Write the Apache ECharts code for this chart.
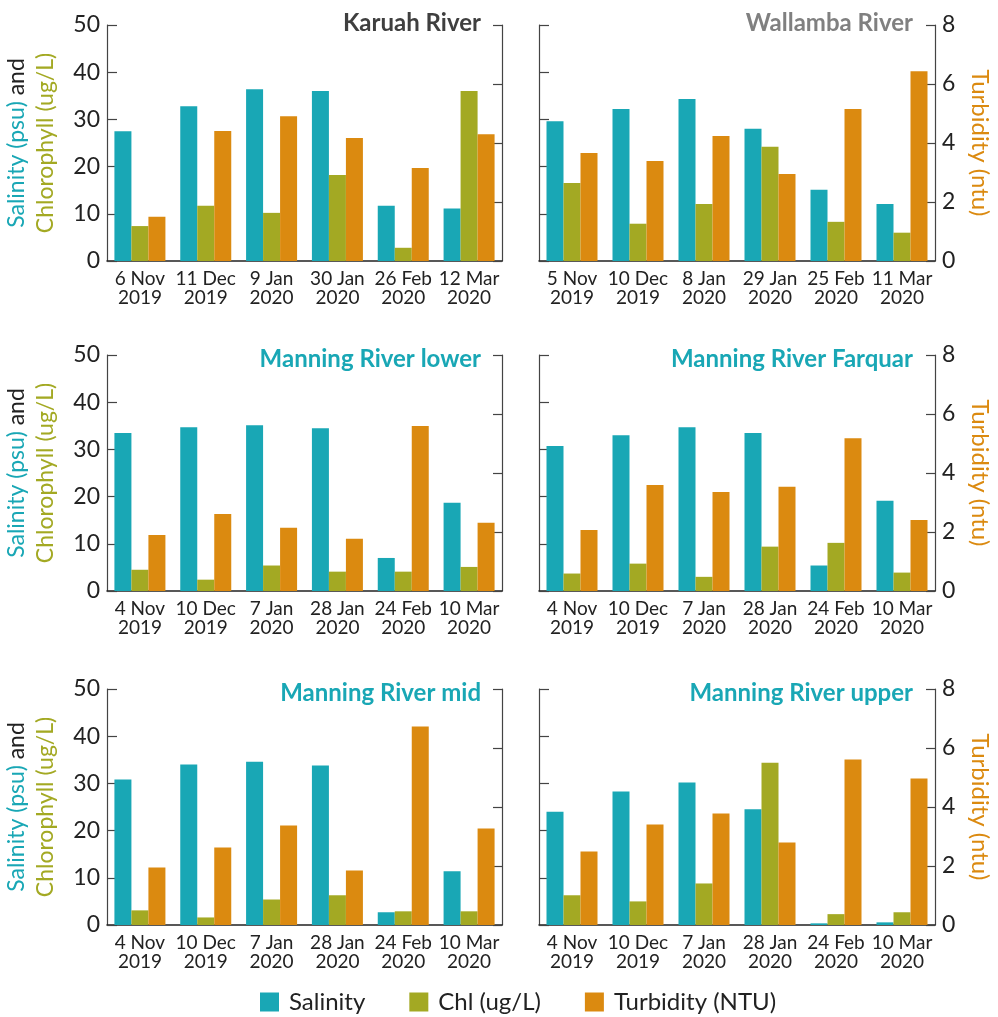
<!DOCTYPE html>
<html>
<head>
<meta charset="utf-8">
<script src="https://cdn.jsdelivr.net/npm/echarts@6/dist/echarts.min.js"></script>
<style>
  html, body { margin: 0; padding: 0; background: #ffffff; }
  #chart { width: 998px; height: 1017px; }
</style>
</head>
<body>
<div id="chart"></div>
<script>
// Sampling dates (category labels) per site
const karuahDates   = ['6 Nov\n2019', '11 Dec\n2019', '9 Jan\n2020', '30 Jan\n2020', '26 Feb\n2020', '12 Mar\n2020'];
const wallambaDates = ['5 Nov\n2019', '10 Dec\n2019', '8 Jan\n2020', '29 Jan\n2020', '25 Feb\n2020', '11 Mar\n2020'];
const manningDates  = ['4 Nov\n2019', '10 Dec\n2019', '7 Jan\n2020', '28 Jan\n2020', '24 Feb\n2020', '10 Mar\n2020'];

// Salinity (psu), chlorophyll (ug/L), turbidity (ntu) per site
const karuahSalinity   = [27.5, 32.8, 36.4, 36.0, 11.7, 11.1];
const karuahChl        = [7.4, 11.7, 10.2, 18.2, 2.8, 36.0];
const karuahTurbidity  = [1.50, 4.41, 4.91, 4.17, 3.15, 4.30];

const wallambaSalinity  = [29.6, 32.2, 34.3, 28.0, 15.1, 12.1];
const wallambaChl       = [16.5, 7.9, 12.1, 24.2, 8.3, 6.0];
const wallambaTurbidity = [3.66, 3.39, 4.24, 2.95, 5.15, 6.43];

const lowerSalinity  = [33.5, 34.7, 35.1, 34.5, 7.0, 18.7];
const lowerChl       = [4.5, 2.4, 5.4, 4.1, 4.1, 5.1];
const lowerTurbidity = [1.90, 2.61, 2.14, 1.77, 5.59, 2.31];

const farquarSalinity  = [30.7, 33.0, 34.7, 33.5, 5.4, 19.1];
const farquarChl       = [3.7, 5.8, 3.0, 9.4, 10.2, 3.9];
const farquarTurbidity = [2.07, 3.59, 3.36, 3.53, 5.18, 2.41];

const midSalinity  = [30.8, 34.0, 34.6, 33.8, 2.7, 11.4];
const midChl       = [3.1, 1.6, 5.4, 6.3, 2.9, 2.9];
const midTurbidity = [1.95, 2.63, 3.37, 1.85, 6.73, 3.27];

const upperSalinity  = [24.0, 28.3, 30.2, 24.5, 0.35, 0.56];
const upperChl       = [6.3, 5.0, 8.8, 34.4, 2.3, 2.7];
const upperTurbidity = [2.49, 3.41, 3.78, 2.80, 5.61, 4.97];

// Axis ticks
const leftTicks  = { min: 0, max: 50, interval: 10 };
const rightTicks = { min: 0, max: 8, interval: 2 };

const COLORS = { sal: '#19a7b5', chl: '#a3a923', turb: '#db8a10' };
const FONT = 'Lato, "Open Sans", sans-serif';
const INK = '#222222';

const panels = [
  { title: 'Karuah River',          titleColor: '#3f3f3f', dates: karuahDates,   sal: karuahSalinity,   chl: karuahChl,   turb: karuahTurbidity,   col: 0, row: 0 },
  { title: 'Wallamba River',        titleColor: '#808080', dates: wallambaDates, sal: wallambaSalinity, chl: wallambaChl, turb: wallambaTurbidity, col: 1, row: 0 },
  { title: 'Manning River lower',   titleColor: COLORS.sal, dates: manningDates, sal: lowerSalinity,    chl: lowerChl,    turb: lowerTurbidity,    col: 0, row: 1 },
  { title: 'Manning River Farquar', titleColor: COLORS.sal, dates: manningDates, sal: farquarSalinity,  chl: farquarChl,  turb: farquarTurbidity,  col: 1, row: 1 },
  { title: 'Manning River mid',     titleColor: COLORS.sal, dates: manningDates, sal: midSalinity,      chl: midChl,      turb: midTurbidity,      col: 0, row: 2 },
  { title: 'Manning River upper',   titleColor: COLORS.sal, dates: manningDates, sal: upperSalinity,    chl: upperChl,    turb: upperTurbidity,    col: 1, row: 2 }
];

const colLeft  = [107, 539];
const colWidth = [395, 396];
const rowTop   = [25, 355, 689];
const plotH    = 236;
const titleRight = [517, 85];
const titleTop   = [11, 347, 681];

const grid = [], xAxis = [], yAxis = [], series = [], title = [];

panels.forEach((p, i) => {
  grid.push({ left: colLeft[p.col], top: rowTop[p.row], width: colWidth[p.col], height: plotH, containLabel: false });

  title.push({
    text: p.title,
    right: titleRight[p.col],
    top: titleTop[p.row],
    padding: 0,
    textStyle: { fontFamily: FONT, fontSize: 24, fontWeight: 'bold', color: p.titleColor }
  });

  xAxis.push({
    type: 'category',
    gridIndex: i,
    data: p.dates,
    axisLine: { lineStyle: { color: INK, width: 1.5 } },
    axisTick: { inside: true, length: 6, lineStyle: { color: INK, width: 1.5 } },
    axisLabel: { interval: 0, fontFamily: FONT, fontSize: 19, lineHeight: 19, color: INK, margin: 8 }
  });

  const isLeft = p.col === 0;
  yAxis.push({
    type: 'value',
    gridIndex: i,
    position: 'left',
    min: leftTicks.min, max: leftTicks.max, interval: leftTicks.interval,
    splitLine: { show: false },
    axisLine: { show: true, lineStyle: { color: '#444', width: 1.2 } },
    axisTick: { show: true, inside: true, length: 10, lineStyle: { color: '#444', width: 1.2 } },
    axisLabel: { show: isLeft, fontFamily: FONT, fontSize: 23, color: INK, margin: 7 },
    name: isLeft ? '{s|Salinity (psu)} {a|and}\n{c|Chlorophyll (ug/L)}' : '',
    nameLocation: 'middle',
    nameRotate: 90,
    nameGap: 47,
    nameTextStyle: {
      fontFamily: FONT, fontSize: 23, lineHeight: 29, align: 'center',
      rich: {
        s: { fontFamily: FONT, fontSize: 23, color: COLORS.sal, lineHeight: 29 },
        a: { fontFamily: FONT, fontSize: 23, color: INK, lineHeight: 29 },
        c: { fontFamily: FONT, fontSize: 23, color: COLORS.chl, lineHeight: 29 }
      }
    }
  });
  yAxis.push({
    type: 'value',
    gridIndex: i,
    position: 'right',
    min: rightTicks.min, max: rightTicks.max, interval: rightTicks.interval,
    splitLine: { show: false },
    axisLine: { show: true, lineStyle: { color: '#444', width: 1.2 } },
    axisTick: { show: true, inside: true, length: 9, lineStyle: { color: '#444', width: 1.2 } },
    axisLabel: { show: !isLeft, fontFamily: FONT, fontSize: 23, color: INK, margin: 7 },
    name: isLeft ? '' : 'Turbidity (ntu)',
    nameLocation: 'middle',
    nameRotate: -90,
    nameGap: 33,
    nameTextStyle: { fontFamily: FONT, fontSize: 24, color: COLORS.turb }
  });

  const common = { type: 'bar', xAxisIndex: i, barWidth: 17, barGap: '0%', animation: false };
  series.push(Object.assign({ name: 'Salinity', yAxisIndex: 2 * i, data: p.sal, itemStyle: { color: COLORS.sal } }, common));
  series.push(Object.assign({ name: 'Chl (ug/L)', yAxisIndex: 2 * i, data: p.chl, itemStyle: { color: COLORS.chl } }, common));
  series.push(Object.assign({ name: 'Turbidity (NTU)', yAxisIndex: 2 * i + 1, data: p.turb, itemStyle: { color: COLORS.turb } }, common));
});

const chart = echarts.init(document.getElementById('chart'), null, { renderer: 'canvas' });
chart.setOption({
  backgroundColor: '#ffffff',
  animation: false,
  title,
  grid,
  xAxis,
  yAxis,
  series,
  legend: {
    data: ['Salinity', 'Chl (ug/L)', 'Turbidity (NTU)'],
    left: 260,
    top: 990,
    padding: 0,
    icon: 'rect',
    itemWidth: 19,
    itemHeight: 19,
    itemGap: 44,
    textStyle: { fontFamily: FONT, fontSize: 24, color: INK, padding: [0, 0, 0, 5] }
  }
});
</script>
</body>
</html>
